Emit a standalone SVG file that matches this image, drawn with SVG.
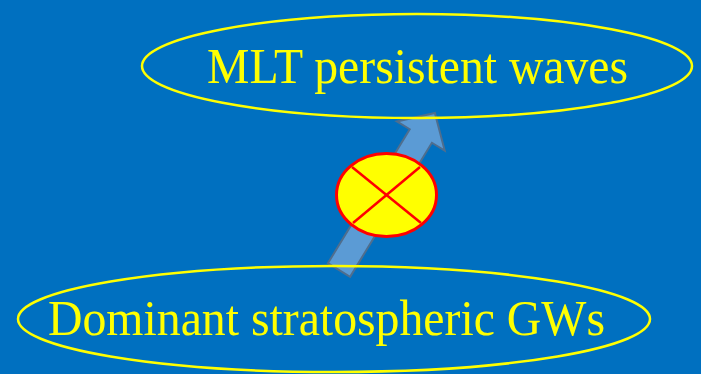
<svg xmlns="http://www.w3.org/2000/svg" width="701" height="374" viewBox="0 0 701 374">
<style>
.node-outline{fill:none;stroke:#FFFF00;stroke-width:2.5}
.label{font-family:"Liberation Serif","Times New Roman",serif;fill:#FFFF00;font-size:51px}
</style>
<rect x="0" y="0" width="701" height="374" fill="#0070C0"/>
<g id="connectors">
<polygon transform="translate(339,270) rotate(-58.6)" points="0,-13 157,-13 157,-28 184,0 157,28 157,13 0,13" fill="#5B9BD5" stroke="#4F6E8E" stroke-width="2" stroke-linejoin="miter"/>
</g>
<g id="node-mlt">
<ellipse class="node-outline" cx="417" cy="66" rx="275" ry="52"/>
<text class="label" x="207" y="83" textLength="421" lengthAdjust="spacingAndGlyphs">MLT persistent waves</text>
</g>
<g id="node-gws">
<ellipse class="node-outline" cx="334" cy="319" rx="316" ry="53"/>
<text class="label" x="48" y="335" textLength="557" lengthAdjust="spacingAndGlyphs">Dominant stratospheric GWs</text>
</g>
<g id="node-block">
<ellipse cx="386.5" cy="195" rx="50" ry="41.5" fill="#FFFF00" stroke="#FF0000" stroke-width="3"/>
<line x1="352" y1="167" x2="421" y2="223" stroke="#FF0000" stroke-width="2.5"/>
<line x1="420" y1="167" x2="353" y2="223" stroke="#FF0000" stroke-width="2.5"/>
</g>
</svg>
